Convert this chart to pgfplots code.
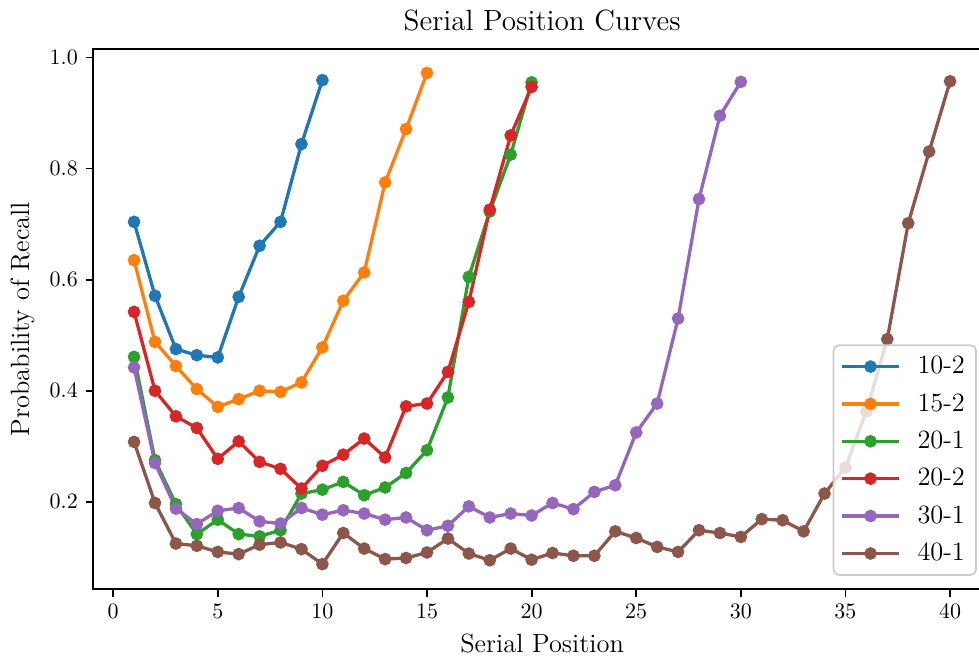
\documentclass[border=0pt]{standalone}
\usepackage{pgfplots}
\pgfplotsset{compat=1.18}
\definecolor{c0}{HTML}{1F77B4}
\definecolor{c1}{HTML}{FF7F0E}
\definecolor{c2}{HTML}{2CA02C}
\definecolor{c3}{HTML}{D62728}
\definecolor{c4}{HTML}{9467BD}
\definecolor{c5}{HTML}{8C564B}
\begin{document}
\begin{tikzpicture}
\begin{axis}[name=ax, scale only axis, width=408pt, height=245.5pt,
 xmin=-0.95, xmax=41.95, ymin=0.043, ymax=1.015,
 xtick={0,5,...,40}, ytick={0.2,0.4,0.6,0.8,1.0},
 yticklabel style={/pgf/number format/.cd, fixed, fixed zerofill, precision=1},
 tick align=outside, xtick pos=bottom, ytick pos=left,
 major tick length=3.5pt, every tick/.style={black, line width=0.8pt},
 axis line style={line width=0.8pt},
 tick label style={font=\normalsize},
 label style={font=\large},
 title={Serial Position Curves}, title style={font=\fontsize{13.3}{15}\selectfont, yshift=-1.5pt},
 xlabel={Serial Position}, ylabel={Probability of Recall},
 every axis plot/.append style={line width=1.5pt, mark=*, mark size=2.1pt, mark options={solid, line width=0.4pt}},
 legend image code/.code={\draw[mark repeat=2, mark phase=2, opacity=1] plot coordinates {(0cm,0cm) (0.46cm,0cm) (0.92cm,0cm)};},
 legend style={at={(1,0)}, anchor=south east, xshift=-6.4pt, yshift=6pt, font=\large,
   draw=black!20, line width=0.8pt, fill=white, fill opacity=0.8, text opacity=1, draw opacity=1,
   rounded corners=2.5pt, inner xsep=3pt, inner ysep=3pt, row sep=3.5pt,
   nodes={inner sep=2pt, anchor=west},
   /tikz/every odd column/.append style={column sep=5.5pt}},
 legend cell align=left,
]
\addplot[c0, mark options={fill=c0}] coordinates {(1,0.704)(2,0.571)(3,0.475)(4,0.464)(5,0.460)(6,0.569)(7,0.661)(8,0.704)(9,0.844)(10,0.959)};
\addlegendentry{10-2}
\addplot[c1, mark options={fill=c1}] coordinates {(1,0.635)(2,0.488)(3,0.4445)(4,0.403)(5,0.371)(6,0.385)(7,0.400)(8,0.398)(9,0.415)(10,0.478)(11,0.562)(12,0.613)(13,0.775)(14,0.871)(15,0.972)};
\addlegendentry{15-2}
\addplot[c2, mark options={fill=c2}] coordinates {(1,0.461)(2,0.275)(3,0.196)(4,0.142)(5,0.168)(6,0.142)(7,0.138)(8,0.149)(9,0.215)(10,0.222)(11,0.236)(12,0.212)(13,0.226)(14,0.252)(15,0.293)(16,0.388)(17,0.605)(18,0.7225)(19,0.825)(20,0.955)};
\addlegendentry{20-1}
\addplot[c3, mark options={fill=c3}] coordinates {(1,0.542)(2,0.400)(3,0.354)(4,0.333)(5,0.2775)(6,0.309)(7,0.272)(8,0.2595)(9,0.224)(10,0.265)(11,0.285)(12,0.314)(13,0.280)(14,0.372)(15,0.377)(16,0.434)(17,0.560)(18,0.726)(19,0.8595)(20,0.947)};
\addlegendentry{20-2}
\addplot[c4, mark options={fill=c4}] coordinates {(1,0.442)(2,0.270)(3,0.188)(4,0.160)(5,0.184)(6,0.189)(7,0.165)(8,0.161)(9,0.189)(10,0.177)(11,0.185)(12,0.179)(13,0.168)(14,0.172)(15,0.149)(16,0.157)(17,0.192)(18,0.172)(19,0.179)(20,0.1755)(21,0.198)(22,0.187)(23,0.218)(24,0.230)(25,0.325)(26,0.377)(27,0.530)(28,0.745)(29,0.895)(30,0.956)};
\addlegendentry{30-1}
\addplot[c5, mark options={fill=c5}] coordinates {(1,0.308)(2,0.198)(3,0.125)(4,0.121)(5,0.110)(6,0.106)(7,0.123)(8,0.127)(9,0.115)(10,0.088)(11,0.144)(12,0.116)(13,0.097)(14,0.099)(15,0.109)(16,0.134)(17,0.107)(18,0.095)(19,0.116)(20,0.096)(21,0.108)(22,0.103)(23,0.103)(24,0.147)(25,0.135)(26,0.119)(27,0.110)(28,0.149)(29,0.144)(30,0.137)(31,0.169)(32,0.167)(33,0.147)(34,0.215)(35,0.262)(36,0.363)(37,0.493)(38,0.7015)(39,0.8306)(40,0.957)};
\addlegendentry{40-1}
\end{axis}
\pgfresetboundingbox
\path[use as bounding box] ([xshift=-42.4pt,yshift=-32.3pt]ax.south west) rectangle ([xshift=-5.4pt,yshift=22.3pt]ax.north east);
\end{tikzpicture}
\end{document}
